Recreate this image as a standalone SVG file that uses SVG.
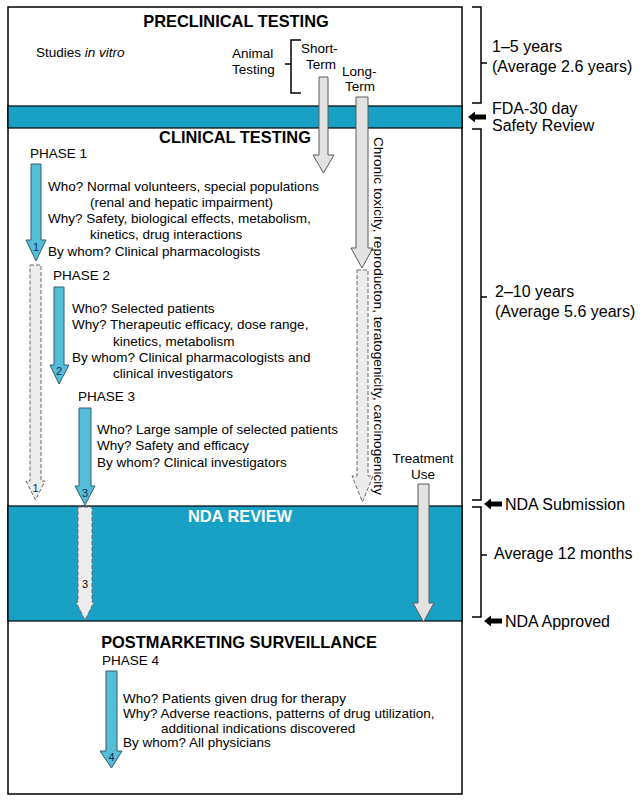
<svg xmlns="http://www.w3.org/2000/svg" width="642" height="802" viewBox="0 0 642 802">
<style>
text{font-family:"Liberation Sans",Arial,sans-serif;fill:#000}
.h{font-size:16.4px;font-weight:bold;text-anchor:middle}
.t{font-size:13.5px}
.r{font-size:16px}
.n{font-size:11px;text-anchor:middle;fill:#0d2c55}
.band{fill:#19a0c5;stroke:#000;stroke-width:1.2}
.pa{fill:#56bdd8;stroke:#2f5f70;stroke-width:1}
.ga{fill:#e2e2e2;stroke:#5a5a5a;stroke-width:1}
.da{fill:#ececec;stroke:#6a6a6a;stroke-width:1;stroke-dasharray:4,2}
.br{fill:none;stroke:#000;stroke-width:1.5}
.blk{fill:#000}
</style>
<rect x="0" y="0" width="642" height="802" fill="#fff"/>
<g id="frame">
<rect x="8" y="7" width="454" height="787" fill="#fff" stroke="#000" stroke-width="1.5"/>
<rect class="band" x="8" y="106" width="454" height="22"/>
<rect class="band" x="8" y="506" width="454" height="115"/>
</g>
<g id="preclinical">
<text class="h" x="236" y="27">PRECLINICAL TESTING</text>
<text class="t" x="36" y="57">Studies <tspan font-style="italic">in vitro</tspan></text>
<text class="t" x="232" y="58">Animal</text>
<text class="t" x="232" y="74">Testing</text>
<path class="br" d="M301,40 H291 V93 H301 M285,64 H291"/>
<text class="t" x="301" y="53">Short-</text>
<text class="t" x="306" y="69">Term</text>
<text class="t" x="342" y="76">Long-</text>
<text class="t" x="345" y="91">Term</text>
</g>
<g id="clinical">
<text class="h" x="235" y="143">CLINICAL TESTING</text>
<text class="t" x="30" y="158">PHASE 1</text>
<text class="t" x="48" y="191">Who? Normal volunteers, special populations</text>
<text class="t" x="90" y="207">(renal and hepatic impairment)</text>
<text class="t" x="48" y="223">Why? Safety, biological effects, metabolism,</text>
<text class="t" x="90" y="239">kinetics, drug interactions</text>
<text class="t" x="48" y="256">By whom? Clinical pharmacologists</text>
<text class="t" x="53" y="280">PHASE 2</text>
<text class="t" x="72" y="313">Who? Selected patients</text>
<text class="t" x="72" y="329">Why? Therapeutic efficacy, dose range,</text>
<text class="t" x="113" y="346">kinetics, metabolism</text>
<text class="t" x="72" y="362">By whom? Clinical pharmacologists and</text>
<text class="t" x="113" y="378">clinical investigators</text>
<text class="t" x="78" y="401">PHASE 3</text>
<text class="t" x="97" y="434">Who? Large sample of selected patients</text>
<text class="t" x="97" y="450">Why? Safety and efficacy</text>
<text class="t" x="97" y="467">By whom? Clinical investigators</text>
<text class="t" x="423" y="463" text-anchor="middle">Treatment</text>
<text class="t" x="423" y="479" text-anchor="middle">Use</text>
</g>
<g id="nda">
<text class="h" x="240" y="522" style="fill:#fff">NDA REVIEW</text>
</g>
<g id="postmarketing">
<text class="h" x="239" y="648">POSTMARKETING SURVEILLANCE</text>
<text class="t" x="102" y="665">PHASE 4</text>
<text class="t" x="123" y="703">Who? Patients given drug for therapy</text>
<text class="t" x="123" y="718">Why? Adverse reactions, patterns of drug utilization,</text>
<text class="t" x="161" y="733">additional indications discovered</text>
<text class="t" x="123" y="747">By whom? All physicians</text>
</g>
<g id="connectors">
<polygon class="ga" points="319,77 328,77 328,155 334,155 323.5,173 313,155 319,155"/>
<polygon class="ga" points="356,97 368,97 368,248 373,248 362,268 351,248 356,248"/>
<polygon class="da" points="357,270 368,270 368,476 373,476 362.5,502 352,476 357,476"/>
<polygon class="ga" points="418,484 429,484 429,603 434,603 423.5,622 413,603 418,603"/>
<polygon class="pa" points="31,164 41,164 41,240 46,240 36,261 26,240 31,240"/>
<polygon class="da" points="30,265 41,265 41,481 45,481 35.5,500 26,481 30,481"/>
<polygon class="pa" points="54,287 64,287 64,365 69,365 59,384 50,365 54,365"/>
<polygon class="pa" points="79,408 91,408 91,486 95,486 85,505 75,486 79,486"/>
<polygon class="da" points="78,507 92,507 92,602 94,602 85,620 76,602 78,602"/>
<polygon class="pa" points="106,671 117,671 117,751 122,751 111.5,768 100,751 106,751"/>
<text class="n" x="36" y="251">1</text>
<text class="n" x="35.5" y="492">1</text>
<text class="n" x="59" y="375">2</text>
<text class="n" x="85" y="497">3</text>
<text class="n" x="85" y="588" style="fill:#000">3</text>
<text class="n" x="111.5" y="761">4</text>
<text class="t" transform="translate(374,137) rotate(90)" x="0" y="0" textLength="358" lengthAdjust="spacingAndGlyphs">Chronic toxicity, reproducton, teratogenicity, carcinogenicity</text>
</g>
<g id="timeline">
<path class="br" d="M472,7 H481 V103 H472 M481,63 H487"/>
<text class="r" x="492" y="52">1–5 years</text>
<text class="r" x="492" y="72">(Average 2.6 years)</text>
<polygon class="blk" points="468,117 475,111.5 475,114.5 486,114.5 486,119.5 475,119.5 475,122.5"/>
<text class="r" x="492" y="114">FDA-30 day</text>
<text class="r" x="492" y="131">Safety Review</text>
<path class="br" d="M472,129 H481 V500 H472 M481,297 H487"/>
<text class="r" x="495" y="297">2–10 years</text>
<text class="r" x="495" y="317">(Average 5.6 years)</text>
<path class="br" d="M472,507 H481 V617 H472 M481,555 H487"/>
<polygon class="blk" points="484,504 491,498.5 491,501.5 502,501.5 502,506.5 491,506.5 491,509.5"/>
<text class="r" x="505" y="510">NDA Submission</text>
<text class="r" x="494" y="559">Average 12 months</text>
<polygon class="blk" points="484,621 491,615.5 491,618.5 502,618.5 502,623.5 491,623.5 491,626.5"/>
<text class="r" x="505" y="627">NDA Approved</text>
</g>
</svg>
